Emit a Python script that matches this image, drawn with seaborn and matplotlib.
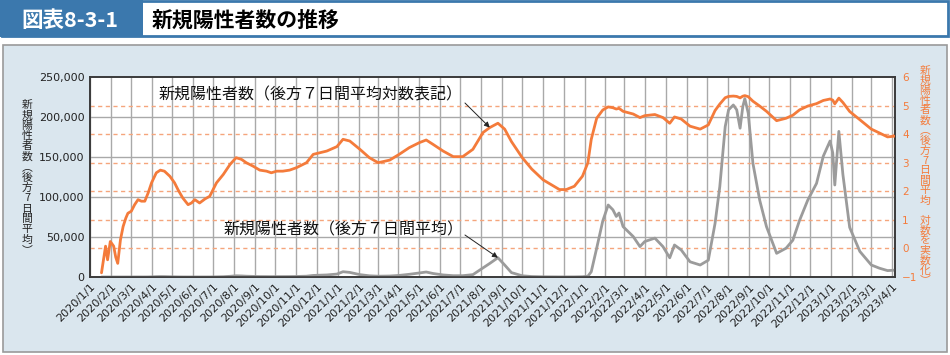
import matplotlib
matplotlib.use("Agg")
import matplotlib.pyplot as plt
import matplotlib.dates as mdates
from matplotlib.patches import Rectangle
from matplotlib.ticker import FuncFormatter
import numpy as np
import pandas as pd
import seaborn as sns

sns.set_style("white")
plt.rcParams['font.family'] = ['DejaVu Sans', 'Noto Sans CJK JP']
CJK = ['Noto Sans CJK JP', 'DejaVu Sans']

# --------------------------------------------------
# データ（グラフから読み取った後方7日間平均の新規陽性者数）
# --------------------------------------------------
dates = [
    "2020-01-18", "2020-01-24", "2020-01-27", "2020-01-31", "2020-02-05", "2020-02-08",
    "2020-02-11", "2020-02-15", "2020-02-19", "2020-02-23", "2020-02-26", "2020-03-02",
    "2020-03-07", "2020-03-12", "2020-03-17", "2020-03-22", "2020-03-27", "2020-04-01",
    "2020-04-08", "2020-04-14", "2020-04-20", "2020-04-28", "2020-05-05", "2020-05-10",
    "2020-05-17", "2020-05-25", "2020-05-30", "2020-06-04", "2020-06-11", "2020-06-19",
    "2020-06-26", "2020-07-06", "2020-07-16", "2020-07-26", "2020-08-04", "2020-08-12",
    "2020-08-19", "2020-08-29", "2020-09-08", "2020-09-18", "2020-09-25", "2020-10-03",
    "2020-10-12", "2020-10-22", "2020-11-01", "2020-11-16", "2020-11-26", "2020-12-16",
    "2020-12-31", "2021-01-09", "2021-01-19", "2021-02-03", "2021-02-17", "2021-03-02",
    "2021-03-19", "2021-04-02", "2021-04-17", "2021-05-02", "2021-05-12", "2021-05-22",
    "2021-06-06", "2021-06-21", "2021-07-05", "2021-07-20", "2021-08-04", "2021-08-14",
    "2021-08-26", "2021-09-05", "2021-09-15", "2021-10-01", "2021-10-15", "2021-11-01",
    "2021-11-25", "2021-12-05", "2021-12-17", "2021-12-29", "2022-01-06", "2022-01-11",
    "2022-01-19", "2022-01-28", "2022-02-05", "2022-02-12", "2022-02-17", "2022-02-21",
    "2022-02-27", "2022-03-14", "2022-03-24", "2022-03-31", "2022-04-15", "2022-04-27",
    "2022-05-07", "2022-05-14", "2022-05-24", "2022-06-06", "2022-06-21", "2022-07-03",
    "2022-07-13", "2022-07-20", "2022-07-28", "2022-08-02", "2022-08-09", "2022-08-14",
    "2022-08-19", "2022-08-23", "2022-08-26", "2022-08-31", "2022-09-07", "2022-09-17",
    "2022-09-27", "2022-10-12", "2022-10-26", "2022-11-05", "2022-11-15", "2022-11-27",
    "2022-12-10", "2022-12-20", "2022-12-30", "2023-01-03", "2023-01-06", "2023-01-12",
    "2023-01-18", "2023-01-28", "2023-02-12", "2023-03-01", "2023-03-13", "2023-03-25",
    "2023-04-04",
]
cases = [
    0.14, 1.2, 0.4, 1.75, 1.2, 0.5,
    0.3, 2.0, 5.9, 11.6, 17, 20,
    34, 51, 45, 45, 88, 198,
    444, 550, 506, 337, 198, 115,
    59, 34, 39, 51, 39, 54,
    67, 198, 387, 871, 1500, 1306,
    1000, 759, 550, 506, 444, 506,
    506, 550, 667, 1000, 1960, 2560,
    3660, 6600, 5750, 2940, 1500, 1000,
    1234, 1960, 3370, 5060, 6240, 4400,
    2560, 1630, 1630, 2940, 11400, 17000,
    24100, 15000, 5500, 1500, 600, 250,
    115, 115, 150, 337, 1000, 6600,
    36000, 70000, 90000, 84000, 75700, 80000,
    63000, 50600, 38000, 44300, 48600, 38000,
    24000, 40000, 33800, 19000, 15000, 21000,
    67000, 113000, 188000, 209000, 215000, 209000,
    186000, 213000, 223000, 205000, 142000, 96000,
    63000, 29600, 36000, 46000, 71000, 96000,
    117000, 151000, 170000, 155000, 115000, 182000,
    128000, 62000, 32000, 15000, 11000, 8000,
    8500,
]

df = pd.DataFrame({"date": pd.to_datetime(dates), "cases": cases})
df["log_cases"] = np.log10(df["cases"])

left_ticks = [0, 50000, 100000, 150000, 200000, 250000]
right_ticks = [-1, 0, 1, 2, 3, 4, 5, 6]

ORANGE = "#f47b3b"
GRAY_LINE = "#9b9b9b"
GRID = "#a9a9a9"
BLUE = "#3b78ad"
PANEL = "#dae6ee"

W, H = 950, 355
fig = plt.figure(figsize=(9.5, 3.55), dpi=100)
fig.patch.set_facecolor("white")

# --------------------------------------------------
# 見出し・背景パネル
# --------------------------------------------------
fig.add_artist(Rectangle((0.002, 0.898), 0.996, 0.1, transform=fig.transFigure,
                         facecolor="white", edgecolor=BLUE, lw=2, zorder=0))
fig.add_artist(Rectangle((0, 0.896), 143 / W, 0.104, transform=fig.transFigure,
                         facecolor=BLUE, edgecolor="none", zorder=1))
fig.text(70 / W, 1 - 20 / H, "図表8-3-1", color="white", fontsize=15.5, fontweight="bold",
         ha="center", va="center", family=CJK)
fig.text(152 / W, 1 - 20 / H, "新規陽性者数の推移", color="black", fontsize=15,
         fontweight="bold", ha="left", va="center", family=CJK)
fig.add_artist(Rectangle((0.003, 0.008), 0.994, 0.866, transform=fig.transFigure,
                         facecolor=PANEL, edgecolor="#9a9a9a", lw=1.2, zorder=0))

# --------------------------------------------------
# グラフ本体
# --------------------------------------------------
ax = fig.add_axes([90 / W, 78 / H, 805 / W, 200 / H])
ax.set_facecolor("white")
sns.lineplot(data=df, x="date", y="cases", ax=ax, color=GRAY_LINE, lw=2, zorder=3)

ax2 = ax.twinx()
sns.lineplot(data=df, x="date", y="log_cases", ax=ax2, color=ORANGE, lw=2, zorder=3)

ax.set_xlim(pd.Timestamp("2020-01-01"), pd.Timestamp("2023-04-05"))
ax.set_ylim(0, 250000)
ax2.set_ylim(-1, 6)
ax.set_xlabel("")
ax.set_ylabel("")
ax2.set_ylabel("")

ax.set_yticks(left_ticks)
ax.yaxis.set_major_formatter(FuncFormatter(lambda v, p: f"{int(v):,}"))
ax2.set_yticks(right_ticks)

ax.xaxis.set_major_locator(mdates.MonthLocator())


def date_label(v, pos):
    d = mdates.num2date(v)
    return f"{d.year}/{d.month}/{d.day}"


ax.xaxis.set_major_formatter(FuncFormatter(date_label))

# 目盛線（縦：月ごと、横：左軸、破線：右軸）
ax.grid(False)
for t in ax.get_xticks():
    ax.axvline(t, color=GRID, lw=1, zorder=0.6)
for v in left_ticks[1:-1]:
    ax.axhline(v, color=GRID, lw=1, zorder=0.6)
for k in right_ticks[1:-1]:
    ax.plot([0, 1], [k, k], transform=ax2.get_yaxis_transform(), color="#f5a57c",
            lw=1, ls=(0, (3, 2.5)), zorder=1)

ax.tick_params(axis="y", length=0, pad=4, labelsize=8, labelcolor="#222222")
ax.tick_params(axis="x", length=0, pad=3.5, labelsize=8, labelcolor="#222222")
plt.setp(ax.get_xticklabels(), rotation=45, ha="right", rotation_mode="anchor")
ax2.tick_params(axis="y", length=0, pad=5, labelsize=7.5, labelcolor=ORANGE)

for a in (ax, ax2):
    for s in a.spines.values():
        s.set_color("#3a3a3a")
        s.set_linewidth(1.2)

# --------------------------------------------------
# 注記
# --------------------------------------------------
ax.text(0.2745, 0.91, "新規陽性者数（後方７日間平均対数表記）", transform=ax.transAxes,
        ha="center", va="center", fontsize=11.5, family=CJK, color="#111111")
ax.text(0.3146, 0.235, "新規陽性者数（後方７日間平均）", transform=ax.transAxes,
        ha="center", va="center", fontsize=11.5, family=CJK, color="#111111")

arrow = dict(arrowstyle="-|>", color="#222222", lw=0.7, mutation_scale=8,
             shrinkA=0, shrinkB=0)
row_o = df[df["date"] == pd.Timestamp("2021-08-14")].iloc[0]
ax2.annotate("", xy=(row_o["date"], row_o["log_cases"]), xytext=(0.4658, 0.87),
             textcoords="axes fraction", arrowprops=arrow)
row_g = df[df["date"] == pd.Timestamp("2021-08-26")].iloc[0]
ax.annotate("", xy=(row_g["date"], row_g["cases"]), xytext=(0.4658, 0.21),
            textcoords="axes fraction", arrowprops=arrow)

# --------------------------------------------------
# 縦書きの軸ラベル
# --------------------------------------------------
VERT = {"（": "︵", "）": "︶"}


def vertical_text(x_px, y0_px, step_px, s, color):
    for i, ch in enumerate(s):
        fig.text(x_px / W, 1 - (y0_px + i * step_px) / H, VERT.get(ch, ch), ha="center",
                 va="center", fontsize=7.8, color=color, family=CJK)


vertical_text(27, 105, 10.36, "新規陽性者数（後方7日間平均）", "#222222")
vertical_text(925, 70.5, 10.0, "新規陽性者数（後方7日間平均 対数を実数化）", ORANGE)

fig.savefig("out.png", dpi=100)
